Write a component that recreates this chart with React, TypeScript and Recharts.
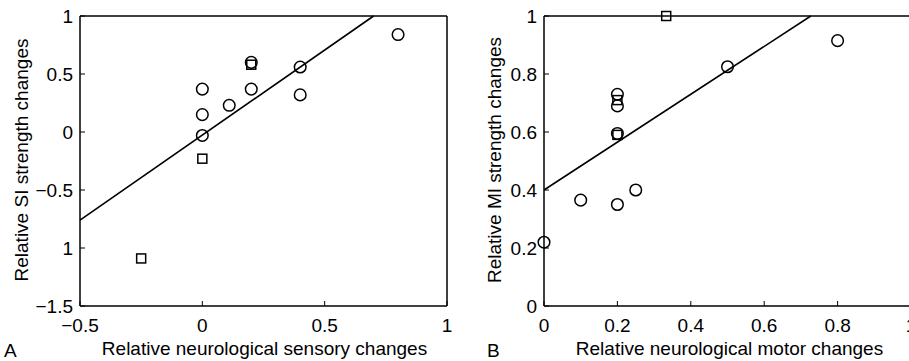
import React from "react";
import { ScatterChart, Scatter, XAxis, YAxis } from "recharts";

// panel A: sensory
const sensoryCircles = [
  { x: 0, y: 0.37 },
  { x: 0, y: 0.15 },
  { x: 0, y: -0.03 },
  { x: 0.11, y: 0.23 },
  { x: 0.2, y: 0.6 },
  { x: 0.2, y: 0.37 },
  { x: 0.4, y: 0.56 },
  { x: 0.4, y: 0.32 },
  { x: 0.8, y: 0.84 },
];
const sensorySquares = [
  { x: 0.2, y: 0.58 },
  { x: 0, y: -0.23 },
  { x: -0.25, y: -1.09 },
];
const sensoryFit = [
  { x: -0.5, y: -0.76 },
  { x: 0.7, y: 1 },
];
const sensoryXTicks = [-0.5, 0, 0.5, 1];
const sensoryYTicks = [-1.5, -1, -0.5, 0, 0.5, 1];
const sensoryYLabels = ["−1.5", "1", "−0.5", "0", "0.5", "1"];
const sensoryXLabels = ["−0.5", "0", "0.5", "1"];

// panel B: motor
const motorCircles = [
  { x: 0, y: 0.22 },
  { x: 0.1, y: 0.365 },
  { x: 0.2, y: 0.35 },
  { x: 0.25, y: 0.4 },
  { x: 0.2, y: 0.73 },
  { x: 0.2, y: 0.69 },
  { x: 0.2, y: 0.595 },
  { x: 0.5, y: 0.825 },
  { x: 0.8, y: 0.915 },
];
const motorSquares = [
  { x: 0.2, y: 0.59 },
  { x: 0.2, y: 0.71 },
  { x: 0.333, y: 1.0 },
];
const motorFit = [
  { x: 0, y: 0.4 },
  { x: 0.727, y: 1 },
];
const motorXTicks = [0, 0.2, 0.4, 0.6, 0.8, 1];
const motorYTicks = [0, 0.2, 0.4, 0.6, 0.8, 1];

const font = "'Liberation Sans', Arial, Helvetica, sans-serif";
const tickStyle = { fontSize: 19, fill: "#000", fontFamily: font };

const Ring = (p: any) => (
  <circle cx={p.cx} cy={p.cy} r={5.8} fill="none" stroke="#000" strokeWidth={1.5} />
);
const Box = (p: any) => (
  <rect x={p.cx - 4.5} y={p.cy - 4.5} width={9} height={9} fill="none" stroke="#000" strokeWidth={1.5} />
);
const Nothing = () => <g />;

function Panel(props: {
  width: number;
  leftW: number;
  rightM: number;
  xDomain: [number, number];
  yDomain: [number, number];
  xTicks: number[];
  yTicks: number[];
  xFmt: (v: number) => string;
  yFmt: (v: number) => string;
  circles: { x: number; y: number }[];
  squares: { x: number; y: number }[];
  fit: { x: number; y: number }[];
}) {
  const blank = () => "";
  const axisStroke = { stroke: "#000", strokeWidth: 1.5 };
  return (
    <ScatterChart
      width={props.width}
      height={361}
      margin={{ top: 0, right: props.rightM, bottom: 25, left: 0 }}
    >
      <XAxis
        xAxisId="b"
        type="number"
        dataKey="x"
        orientation="bottom"
        domain={props.xDomain}
        ticks={props.xTicks}
        tickFormatter={props.xFmt}
        height={30}
        tickSize={-5}
        tickMargin={18}
        tick={tickStyle}
        axisLine={axisStroke}
        tickLine={{ stroke: "#000" }}
      />
      <XAxis
        xAxisId="t"
        type="number"
        orientation="top"
        domain={props.xDomain}
        ticks={props.xTicks}
        tickFormatter={blank}
        height={16}
        tickSize={-5}
        axisLine={axisStroke}
        tickLine={{ stroke: "#000" }}
      />
      <YAxis
        yAxisId="l"
        type="number"
        dataKey="y"
        orientation="left"
        domain={props.yDomain}
        ticks={props.yTicks}
        tickFormatter={props.yFmt}
        width={props.leftW}
        tickSize={-5}
        tickMargin={12}
        tick={tickStyle}
        axisLine={axisStroke}
        tickLine={{ stroke: "#000" }}
      />
      <YAxis
        yAxisId="r"
        type="number"
        orientation="right"
        domain={props.yDomain}
        ticks={props.yTicks}
        tickFormatter={blank}
        width={10}
        tickSize={-5}
        axisLine={axisStroke}
        tickLine={{ stroke: "#000" }}
      />
      <Scatter
        xAxisId="b"
        yAxisId="l"
        data={props.fit}
        line={{ stroke: "#000", strokeWidth: 1.6 }}
        shape={Nothing}
        isAnimationActive={false}
      />
      <Scatter xAxisId="b" yAxisId="l" data={props.circles} shape={Ring} isAnimationActive={false} />
      <Scatter xAxisId="b" yAxisId="l" data={props.squares} shape={Box} isAnimationActive={false} />
    </ScatterChart>
  );
}

const textBase: React.CSSProperties = {
  position: "absolute",
  fontFamily: font,
  fontSize: 19,
  color: "#000",
  whiteSpace: "nowrap",
  lineHeight: 1,
};

export default function App() {
  const fmtS = (v: number) => sensoryXLabels[sensoryXTicks.indexOf(v)] ?? String(v);
  const fmtSY = (v: number) => sensoryYLabels[sensoryYTicks.indexOf(v)] ?? String(v);
  const fmtM = (v: number) => String(v);
  return (
    <div
      style={{
        position: "absolute",
        left: 0,
        top: 0,
        width: 909,
        height: 361,
        overflow: "hidden",
        background: "#fff",
      }}
    >
      <div style={{ position: "absolute", left: 0, top: 0 }}>
        <Panel
          width={460}
          leftW={80}
          rightM={3}
          xDomain={[-0.5, 1]}
          yDomain={[-1.5, 1]}
          xTicks={sensoryXTicks}
          yTicks={sensoryYTicks}
          xFmt={fmtS}
          yFmt={fmtSY}
          circles={sensoryCircles}
          squares={sensorySquares}
          fit={sensoryFit}
        />
      </div>
      <div style={{ position: "absolute", left: 455, top: 0 }}>
        <Panel
          width={470}
          leftW={89}
          rightM={4}
          xDomain={[0, 1]}
          yDomain={[0, 1]}
          xTicks={motorXTicks}
          yTicks={motorYTicks}
          xFmt={fmtM}
          yFmt={fmtM}
          circles={motorCircles}
          squares={motorSquares}
          fit={motorFit}
        />
      </div>
      <div style={{ ...textBase, left: 21, top: 160, transform: "translate(-50%,-50%) rotate(-90deg)" }}>
        Relative SI strength changes
      </div>
      <div style={{ ...textBase, left: 494, top: 160, transform: "translate(-50%,-50%) rotate(-90deg)" }}>
        Relative MI strength changes
      </div>
      <div style={{ ...textBase, left: 264.5, top: 348, transform: "translate(-50%,-50%)" }}>
        Relative neurological sensory changes
      </div>
      <div style={{ ...textBase, left: 729.5, top: 348, transform: "translate(-50%,-50%)" }}>
        Relative neurological motor changes
      </div>
      <div style={{ ...textBase, left: 4, top: 350, transform: "translate(0,-50%)" }}>A</div>
      <div style={{ ...textBase, left: 487, top: 350, transform: "translate(0,-50%)" }}>B</div>
    </div>
  );
}
